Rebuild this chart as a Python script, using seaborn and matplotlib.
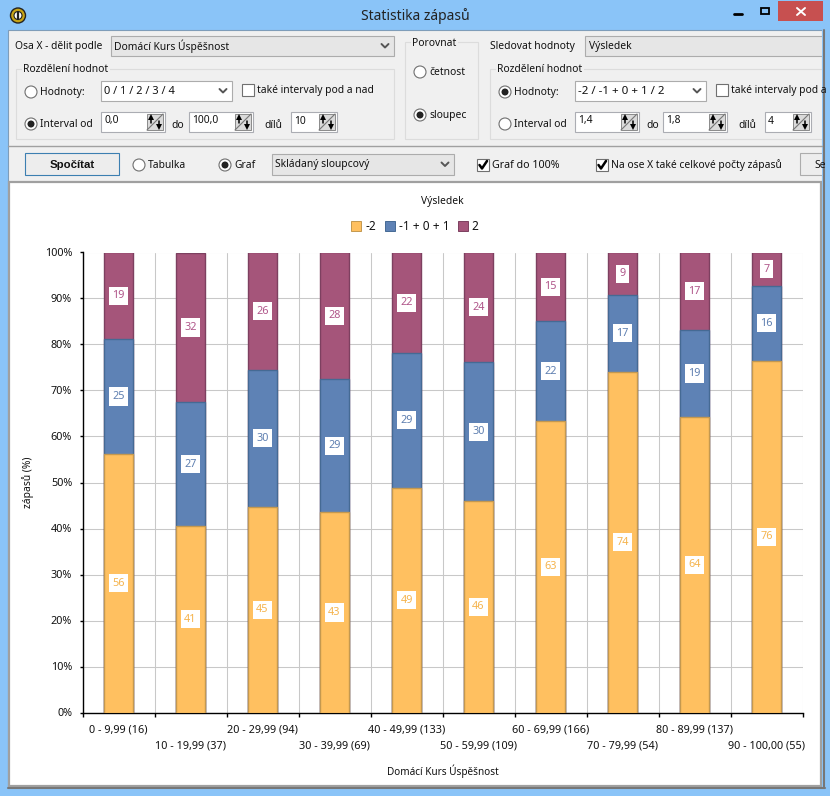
import numpy as np
import pandas as pd
import matplotlib.pyplot as plt
import seaborn as sns
from matplotlib.patches import Rectangle, Circle
from matplotlib.lines import Line2D

FONT = ["Noto Sans", "DejaVu Sans"]

intervals = ["0 - 9,99 (16)", "10 - 19,99 (37)", "20 - 29,99 (94)", "30 - 39,99 (69)", "40 - 49,99 (133)",
             "50 - 59,99 (109)", "60 - 69,99 (166)", "70 - 79,99 (54)", "80 - 89,99 (137)", "90 - 100,00 (55)"]
series_names = ["-2", "-1 + 0 + 1", "2"]
low_pct = [56.2, 40.5, 44.7, 43.5, 48.9, 45.9, 63.3, 74.1, 64.2, 76.4]
mid_pct = [25.0, 27.0, 29.8, 29.0, 29.3, 30.3, 21.7, 16.7, 19.0, 16.4]
high_pct = [18.8, 32.4, 25.5, 27.5, 21.8, 23.8, 15.0, 9.2, 16.8, 7.2]
low_labels = [56, 41, 45, 43, 49, 46, 63, 74, 64, 76]
mid_labels = [25, 27, 30, 29, 29, 30, 22, 17, 19, 16]
high_labels = [19, 32, 26, 28, 22, 24, 15, 9, 17, 7]
y_ticks = [0, 10, 20, 30, 40, 50, 60, 70, 80, 90, 100]

fills = ["#FFC060", "#5E82B5", "#A5557A"]
edges = ["#C4984F", "#456A94", "#7D4060"]
text_cols = ["#F5B44E", "#5E7FB0", "#B0568A"]

sns.set_theme(style="white")
plt.rcParams["font.family"] = FONT
plt.rcParams["font.size"] = 7.4
plt.rcParams["text.color"] = "#111111"

fig = plt.figure(figsize=(8.3, 7.96), dpi=100, facecolor="#8AC4F8")


# window furniture, in pixel coordinates of the screenshot
ui = fig.add_axes([0, 0, 1, 1], zorder=0)
ui.set_xlim(0, 830)
ui.set_ylim(796, 0)
ui.axis("off")


def label(x, y, s, **kw):
    kw.setdefault("va", "center")
    kw.setdefault("clip_on", True)
    ui.text(x, y, s, **kw)


def box(x0, y0, x1, y1, fc="white", ec="#ABADB3", lw=0.8):
    ui.add_patch(Rectangle((x0, y0), x1 - x0, y1 - y0, fc=fc, ec=ec, lw=lw))


def chevron(x, y):
    ui.plot([x - 3.5, x, x + 3.5], [y - 2, y + 1.5, y - 2], color="#555555", lw=1.4)


def combo(x0, y0, x1, y1, s, fc="white", arrow=True, size=7.4):
    box(x0, y0, x1, y1, fc=fc, ec="#ACACAC")
    label(x0 + 3, (y0 + y1) / 2, s, fontsize=size)
    if arrow:
        chevron(x1 - 9, (y0 + y1) / 2)


def radio(x, y, s, on=False):
    ui.add_patch(Circle((x, y), 6, fc="white", ec="#707070", lw=0.8))
    if on:
        ui.add_patch(Circle((x, y), 3.5, fc="#222222", ec="none"))
    label(x + 9, y + 0.5, s)


def check(x, y, s, on=False, size=7.4):
    box(x, y - 6, x + 12, y + 6, ec="#707070")
    if on:
        ui.plot([x + 2.5, x + 5, x + 10], [y, y + 3.5, y - 4], color="black", lw=1.8)
    label(x + 15, y, s, fontsize=size)


def spin(x0, x1, y, s):
    box(x0, y - 10, x1, y + 10, ec="#ABADB3")
    label(x0 + 3, y - 1, s)
    box(x1 - 18, y - 8, x1 - 2, y + 8, fc="#DADADA", ec="#8A8A8A", lw=0.7)
    ui.plot([x1 - 18, x1 - 2], [y + 8, y - 8], color="#777777", lw=0.8)
    ui.plot([x1 - 14, x1 - 14], [y - 5, y + 1], color="black", lw=1.1)
    ui.plot([x1 - 14], [y - 5], marker="^", ms=4.5, color="black", mew=0)
    ui.plot([x1 - 6, x1 - 6], [y - 1, y + 5], color="black", lw=1.1)
    ui.plot([x1 - 6], [y + 5], marker="v", ms=4.5, color="black", mew=0)


def group(x0, y0, x1, y1, title, tx):
    box(x0, y0, x1, y1, fc="#F0F0F0", ec="#DCDCDC")
    ui.text(tx, y0 + 1, title, va="center", bbox=dict(fc="#F0F0F0", ec="none", pad=1))


# title bar
ui.text(415, 16, "Statistika zápasů", ha="center", va="center", fontsize=10, color="#222222")
ui.add_patch(Circle((18, 15.5), 7.5, fc="#C8A415", ec="#222222", lw=1))
ui.add_patch(Circle((18, 15.5), 4, fc="white", ec="#222222", lw=0.8))
ui.plot([18, 18], [12, 19], color="#222222", lw=1.6)
box(778, 1, 823, 21, fc="#C75050", ec="none")
ui.plot([797, 805], [8, 15], color="white", lw=1.4)
ui.plot([797, 805], [15, 8], color="white", lw=1.4)
ui.plot([734, 742], [14, 14], color="black", lw=2)
box(761, 8, 769, 14, fc="none", ec="black", lw=1.3)

# client area
box(8, 30, 822, 787, fc="#F0F0F0", ec="#7F9DB9", lw=0.8)
ui.plot([8, 822], [146, 146], color="#A0A0A0", lw=1)
box(9, 182, 821, 786, fc="white", ec="#A0A0A0", lw=1.6)

# left controls
label(15, 46, "Osa X - dělit podle")
combo(111, 36, 394, 56, "Domácí Kurs Úspěšnost", fc="#E6E6E6")
group(16, 69, 394, 139, "Rozdělení hodnot", 23)
radio(31, 92, "Hodnoty:")
combo(101, 81, 232, 101, "0 / 1 / 2 / 3 / 4", size=7.9)
check(242, 90, "také intervaly pod a nad")
radio(31, 124, "Interval od", on=True)
spin(101, 165, 122, "0,0")
label(171, 125, "do")
spin(189, 253, 122, "100,0")
label(264, 125, "dílů")
spin(291, 337, 122, "10")

# compare group
group(405, 42, 478, 139, "Porovnat", 412)
radio(420, 72, "četnost")
radio(420, 115, "sloupec", on=True)

# right controls
label(490, 46, "Sledovat hodnoty")
box(585, 36, 830, 56, fc="#E6E6E6", ec="#ACACAC")
label(589, 46.5, "Výsledek")
group(490, 69, 830, 139, "Rozdělení hodnot", 497)
radio(505, 92, "Hodnoty:", on=True)
combo(575, 81, 706, 101, "-2 / -1 + 0 + 1 / 2", size=8.3)
check(716, 90, "také intervaly pod a nad")
radio(505, 124, "Interval od")
spin(575, 639, 122, "1,4")
label(646, 125, "do")
spin(663, 727, 122, "1,8")
label(738, 125, "dílů")
spin(765, 811, 122, "4")

# toolbar row
box(25, 153, 119, 175, fc="#EDEDED", ec="#3C7FB1", lw=0.8)
ui.text(72, 165, "Spočítat", ha="center", va="center", fontweight="bold", fontfamily="Liberation Sans", fontsize=8.2)
radio(139, 165, "Tabulka")
radio(225, 165, "Graf", on=True)
combo(272, 154, 454, 175, "Skládaný sloupcový", fc="#E6E6E6")
check(477, 165, "Graf do 100%", on=True, size=7.7)
check(596, 165, "Na ose X také celkové počty zápasů", on=True)
box(800, 153, 830, 175, fc="#EDEDED", ec="#ACACAC")
label(814, 165, "Se")

# window edge again, the controls above run past it
box(822, 30, 830, 796, fc="#8AC4F8", ec="none")
ui.plot([824, 824], [30, 788], color="#777777", lw=1.5)
ui.plot([8, 825], [788, 788], color="#777777", lw=1.5)


# chart
ax = fig.add_axes([82.5 / 830, 1 - 712.5 / 796, 720 / 830, 460 / 796], zorder=1, facecolor="none")

stacks = np.cumsum([low_pct, mid_pct, high_pct], axis=0)
for i in [2, 1, 0]:
    df = pd.DataFrame({"interval": intervals, "pct": stacks[i]})
    sns.barplot(data=df, x="interval", y="pct", color=fills[i], saturation=1, width=0.39,
                edgecolor=edges[i], linewidth=1.0, ax=ax, zorder=3)

ax.set_xlim(-0.5, 9.5)
ax.set_ylim(0, 100)
ax.set_axisbelow(True)

ax.set_xticks(np.arange(len(intervals) + 1) - 0.5)
ax.set_xticklabels([])
ax.set_xticks(np.arange(len(intervals)), minor=True)
ax.set_xticklabels([s if i % 2 == 0 else "\n" + s for i, s in enumerate(intervals)], minor=True, linespacing=1.58)
ax.set_yticks(y_ticks)
ax.set_yticklabels([f"{v}%" for v in y_ticks])
ax.tick_params(axis="x", which="major", length=3, width=1, color="black", bottom=True)
ax.tick_params(axis="x", which="minor", length=0, pad=9, labelsize=7.8, labelcolor="#111111")
ax.tick_params(axis="y", length=2.5, width=1, color="black", left=True, pad=5, labelsize=7.8, labelcolor="#111111")
ax.grid(True, which="major", color="#C8C8C8", lw=0.75)
sns.despine(ax=ax, top=True, right=True)
for side in ["left", "bottom"]:
    ax.spines[side].set_color("black")
    ax.spines[side].set_linewidth(1.0)

# value labels in the middle of each segment
bases = np.vstack([np.zeros(len(intervals)), stacks[:-1]])
for i, labels in enumerate([low_labels, mid_labels, high_labels]):
    for j, v in enumerate(labels):
        ax.text(j, bases[i][j] + (stacks[i][j] - bases[i][j]) / 2, str(v), ha="center", va="center",
                fontsize=7.8, color=text_cols[i], zorder=5, bbox=dict(fc="white", ec="none", pad=2.6))

ax.set_xlabel("Domácí Kurs Úspěšnost", fontsize=7.2, color="#111111", labelpad=9)
ax.set_ylabel("zápasů (%)", fontsize=7.4, color="#111111", labelpad=8)
ax.set_title("Výsledek", fontsize=7.4, color="#111111", pad=35)

handles = [Line2D([], [], marker="s", ls="", ms=7, mfc=fills[i], mec=edges[i], mew=0.7) for i in range(3)]
fig.legend(handles, series_names, ncol=3, frameon=False, loc="center", bbox_to_anchor=(415 / 830, 1 - 227 / 796),
           fontsize=8.5, handlelength=0.85, handletextpad=0.35, columnspacing=0.7, borderpad=0)

fig.savefig("out.png", dpi=100, facecolor=fig.get_facecolor())
